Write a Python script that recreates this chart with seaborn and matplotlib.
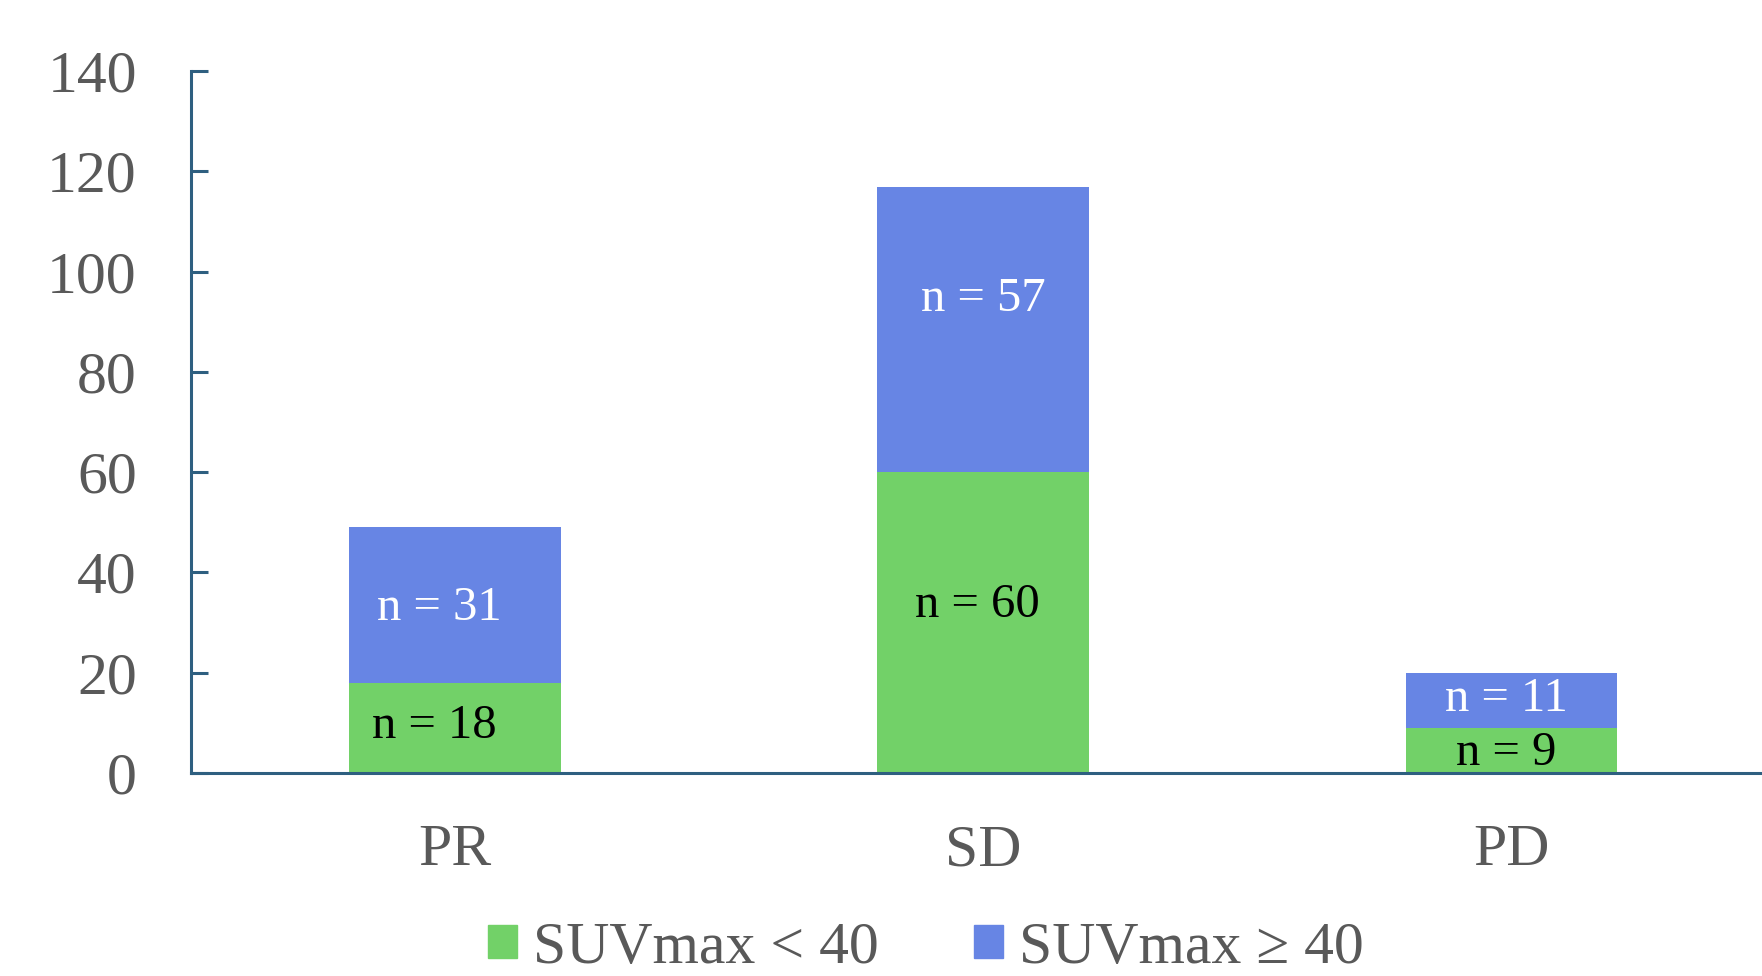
import matplotlib
matplotlib.use("Agg")
import matplotlib.pyplot as plt
import seaborn as sns
from matplotlib.patches import Patch

# values
categories = ["PR", "SD", "PD"]
low_suv = [18, 60, 9]      # SUVmax < 40
high_suv = [31, 57, 11]    # SUVmax >= 40
totals = [a + b for a, b in zip(low_suv, high_suv)]
yticks = [0, 20, 40, 60, 80, 100, 120, 140]

green = "#72D168"
blue = "#6785E4"
axis_col = "#2E5F80"
text_col = "#595959"

sns.set_style("white")
plt.rcParams["font.family"] = ["Liberation Serif", "DejaVu Serif"]

fig = plt.figure(figsize=(17.62, 9.76), dpi=100)
ax = fig.add_axes([0.1084, 0.208, 0.8916, 0.719])

sns.barplot(x=categories, y=totals, color=blue, width=0.4, saturation=1,
            linewidth=0, ax=ax)
sns.barplot(x=categories, y=low_suv, color=green, width=0.4, saturation=1,
            linewidth=0, ax=ax)

# small nudges so labels sit where the original puts them
low_nudge = [(-0.04, 0.3), (-0.01, 3.5), (-0.01, -0.5)]
high_nudge = [(-0.03, -0.5), (0.0, 6.0), (-0.01, 0.3)]
for i in range(len(categories)):
    dx, dy = low_nudge[i]
    ax.text(i + dx, low_suv[i] / 2 + dy, f"n = {low_suv[i]}", ha="center", va="center",
            fontsize=35, color="black")
    dx, dy = high_nudge[i]
    ax.text(i + dx, low_suv[i] + high_suv[i] / 2 + dy, f"n = {high_suv[i]}",
            ha="center", va="center", fontsize=35, color="white")

ax.set_xlim(-0.5, 2.475)
ax.set_ylim(0, 140)
ax.set_yticks(yticks)
ax.set_xlabel("")
ax.set_ylabel("")

for s in ["top", "right"]:
    ax.spines[s].set_visible(False)
for s in ["left", "bottom"]:
    ax.spines[s].set_color(axis_col)
    ax.spines[s].set_linewidth(2.2)

ax.tick_params(axis="y", direction="in", length=12, width=2.2, color=axis_col,
               labelsize=43, labelcolor=text_col, pad=39, left=True)
ax.tick_params(axis="x", length=0, labelsize=43, labelcolor=text_col, pad=37)

handles = [Patch(color=green, label="SUVmax < 40"), Patch(color=blue, label="SUVmax ≥ 40")]
leg = fig.legend(handles=handles, loc="center", bbox_to_anchor=(0.5255, 0.028), ncol=2,
                 frameon=False, fontsize=43, handlelength=0.48, handleheight=0.48,
                 handletextpad=0.27, columnspacing=1.6)
for t in leg.get_texts():
    t.set_color(text_col)

fig.savefig("out.png", dpi=100)
